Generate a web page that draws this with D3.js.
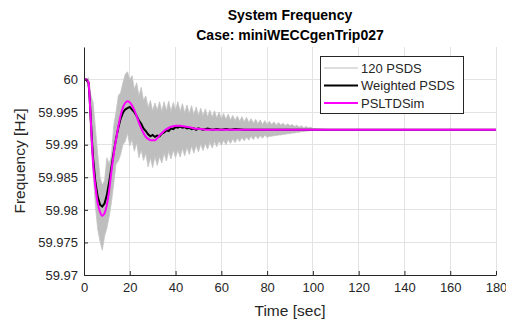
<!DOCTYPE html>
<html><head><meta charset="utf-8">
<script src="https://cdn.jsdelivr.net/npm/d3@7"></script>
<style>body{margin:0;background:#fff;} svg{display:block;font-family:"Liberation Sans",Arial,Helvetica,sans-serif;}</style>
</head><body>
<svg id="chart" width="506" height="325"></svg>
<script>
// ---- Data ----
const xTicks = [0, 20, 40, 60, 80, 100, 120, 140, 160, 180];
const yTicks = [59.97, 59.975, 59.98, 59.985, 59.99, 59.995, 60];
const yTickLabels = ["59.97", "59.975", "59.98", "59.985", "59.99", "59.995", "60"];

// PSLTDSim (magenta)
const simTime = [0,1,2,2.5,3,3.5,4,5,6,7,8,9,10,11,12,13,14,15,16,17,18,19,20,21,22,23,24,25,26,27,28,29,30,31,32,33,34,35,36,37,38,39,40,41,42,43,44,45,46,47,48,50,55,60,70,180];
const simFreq = [60,60,59.9995,59.997,59.9935,59.990,59.987,59.9835,59.981,59.9797,59.9791,59.9795,59.9808,59.983,59.986,59.9886,59.9908,59.9928,59.9945,59.9957,59.9964,59.99667,59.9965,59.996,59.9953,59.9944,59.9934,59.9925,59.9918,59.9912,59.9909,59.9907,59.99068,59.9907,59.991,59.9914,59.9918,59.9921,59.9924,59.9926,59.99275,59.99285,59.9929,59.99292,59.9929,59.99285,59.9928,59.99275,59.9927,59.9926,59.9925,59.99245,59.9923,59.99228,59.99228,59.9923];

// Weighted PSDS (black)
const wTime = [0,1,2,2.5,3,3.5,4,5,6,7,8,9,10,11,12,13,14,15,16,17,18,19,20,21,22,23,24,25,26,27,28,29,30,31,32,33,34,35,36,37,38,39,40,41,42,43,44,45,46,47,48,49,50,52,54,56,58,60,62,64,66,70,180];
const wFreq = [60,60,59.9995,59.997,59.9937,59.9905,59.9878,59.9842,59.982,59.9808,59.9805,59.981,59.9823,59.9843,59.9866,59.9889,59.9909,59.9926,59.994,59.9949,59.9954,59.9956,59.9958,59.9954,59.995,59.9944,59.9937,59.9932,59.9925,59.9921,59.9916,59.9913,59.9915,59.9912,59.9914,59.9913,59.9917,59.9919,59.9922,59.9921,59.9925,59.9924,59.9927,59.9926,59.9928,59.9926,59.9927,59.9925,59.9926,59.9924,59.9925,59.9923,59.9925,59.9923,59.9925,59.9923,59.9924,59.9923,59.9924,59.9923,59.9924,59.9923,59.9923];

// 120 PSDS (grey band: upper / lower envelope of the runs)
const bandTime = [0,1,2,3,4,5,6,7,8,9,10,11,12,13,14,15,16,17,18,19,20,21,22,23,24,25,26,27,28,29,30,31,32,33,34,35,36,37,38,39,40,41,42,43,44,45,46,47,48,49,50,51,52,53,54,55,56,57,58,59,60,61,62,63,64,65,66,67,68,69,70,71,72,73,74,75,76,77,78,79,80,81,82,83,84,85,86,87,88,89,90,91,92,93,94,95,96,97,98,99,100,102,104,106];
const bandUpper = [60,60,60.0003,59.9975,59.9965,59.9925,59.9885,59.985,59.9838,59.9845,59.988,59.987,59.9885,59.993,59.995,59.9975,59.998,59.9995,60.0008,
  60.0012,60.0,60.0006,59.9985,59.9995,59.9975,59.9988,59.9968,59.9975,59.9957,
  59.9968,59.9952,59.9964,59.9953,59.9966,59.9951,59.9966,59.9952,59.9967,59.9951,
  59.9965,59.9953,59.9966,59.9951,59.9963,59.9949,59.9961,59.9948,59.996,59.9946,
  59.9958,59.9945,59.9956,59.9944,59.9955,59.9943,59.9953,59.9942,59.9952,59.9941,
  59.995,59.994,59.9948,59.9939,59.9947,59.9938,59.9945,59.9937,59.9944,59.9936,
  59.9943,59.9935,59.9942,59.9934,59.994,59.9933,59.9939,59.9932,59.9938,59.9931,
  59.9937,59.9931,
  59.9936,59.9931,59.9935,59.993,59.9934,59.993,59.9933,59.9929,59.9932,59.9929,59.9931,59.9928,59.993,59.9927,59.9929,59.9926,59.9928,59.9926,59.9927,59.9925,
  59.99245,59.9924,59.99235];
const bandLower = [60,60,59.9985,59.9905,59.9855,59.9805,59.977,59.9752,59.9738,59.976,59.9772,59.979,59.9812,59.984,59.987,59.9875,59.9885,59.99,59.9905,
  59.9918,59.9898,59.9908,59.989,59.9903,59.988,59.9892,59.9876,59.9887,59.9866,
  59.988,59.9865,59.9882,59.9868,59.9882,59.9872,59.9887,59.9875,59.989,59.9878,
  59.9892,59.988,59.9892,59.9881,59.9894,59.9883,59.9896,59.9885,59.9898,59.9887,
  59.9899,59.9889,59.9901,59.9891,59.9902,59.9893,59.9904,59.9895,59.9905,59.9897,
  59.9906,59.9899,59.9907,59.99,59.9908,59.9902,59.9909,59.9903,59.991,59.9905,
  59.9911,59.9906,59.9912,59.9907,59.9913,59.9908,59.9914,59.9909,59.9914,59.991,
  59.9915,59.9911,
  59.9913,59.9913,59.9914,59.9914,59.9915,59.9915,59.9916,59.9916,59.9917,59.9917,59.9918,59.9918,59.9919,59.9919,59.992,59.992,59.9921,59.9921,59.9922,59.9922,
  59.99225,59.9923,59.99228];

const legendLabels = ["120 PSDS", "Weighted PSDS", "PSLTDSim"];

// ---- Drawing ----
const svg = d3.select("#chart");
const mLeft = 84, mRight = 496, mTop = 47, mBottom = 275;
const x = d3.scaleLinear().domain([0, 180]).range([mLeft, mRight]);
const y = d3.scaleLinear().domain([59.97, 60.005]).range([mBottom, mTop]);
const axisCol = "#262626";

// grid
const g = svg.append("g");
g.selectAll(".gx").data(xTicks).enter().append("line")
  .attr("x1", d => x(d)).attr("x2", d => x(d)).attr("y1", mTop).attr("y2", mBottom)
  .attr("stroke", "#e3e3e3").attr("stroke-width", 1).attr("shape-rendering", "crispEdges");
g.selectAll(".gy").data(yTicks).enter().append("line")
  .attr("x1", mLeft).attr("x2", mRight).attr("y1", d => y(d)).attr("y2", d => y(d))
  .attr("stroke", "#e3e3e3").attr("stroke-width", 1).attr("shape-rendering", "crispEdges");

// grey band
const area = d3.area().x((d, i) => x(bandTime[i])).y0((d, i) => y(bandLower[i])).y1((d, i) => y(bandUpper[i]));
svg.append("path").datum(bandTime).attr("d", area).attr("fill", "#bebebe").attr("stroke", "#c4c4c4").attr("stroke-width", 0.8);

// lines
const simLine = d3.line().x((d, i) => x(simTime[i])).y((d, i) => y(simFreq[i])).curve(d3.curveMonotoneX);
const wLine = d3.line().x((d, i) => x(wTime[i])).y((d, i) => y(wFreq[i])).curve(d3.curveLinear);
svg.append("path").datum(wTime).attr("d", wLine).attr("fill", "none").attr("stroke", "#000").attr("stroke-width", 2);
svg.append("path").datum(simTime).attr("d", simLine).attr("fill", "none").attr("stroke", "#ff00ff").attr("stroke-width", 2);

// axes
const xAxis = d3.axisBottom(x).tickValues(xTicks).tickSizeInner(-4).tickSizeOuter(0).tickPadding(8);
const yAxis = d3.axisLeft(y).tickValues(yTicks).tickFormat((d, i) => yTickLabels[i]).tickSizeInner(-4).tickSizeOuter(0).tickPadding(6);
const gx = svg.append("g").attr("transform", `translate(0,${mBottom})`).call(xAxis);
const gy = svg.append("g").attr("transform", `translate(${mLeft},0)`).call(yAxis);
[gx, gy].forEach(a => {
  a.select(".domain").attr("stroke", axisCol).attr("stroke-width", 1);
  a.selectAll(".tick line").attr("stroke", axisCol);
  a.selectAll(".tick text").attr("fill", axisCol).style("font-size", "13px").style("font-family", "Liberation Sans, Arial, sans-serif");
});

// axis labels
svg.append("text").attr("x", (mLeft + mRight) / 2).attr("y", 316).attr("text-anchor", "middle")
  .attr("fill", axisCol).style("font-size", "15.5px").text("Time [sec]");
svg.append("text").attr("transform", `translate(25,${(mTop + mBottom) / 2}) rotate(-90)`).attr("text-anchor", "middle")
  .attr("fill", axisCol).style("font-size", "15.5px").text("Frequency [Hz]");

// title
svg.append("text").attr("x", (mLeft + mRight) / 2).attr("y", 20).attr("text-anchor", "middle")
  .style("font-weight", "bold").style("font-size", "14px").attr("fill", "#000").text("System Frequency");
svg.append("text").attr("x", (mLeft + mRight) / 2).attr("y", 40).attr("text-anchor", "middle")
  .style("font-weight", "bold").style("font-size", "14px").attr("fill", "#000").text("Case: miniWECCgenTrip027");

// legend
const lg = svg.append("g");
lg.append("rect").attr("x", 320.5).attr("y", 56.5).attr("width", 143).attr("height", 57)
  .attr("fill", "#fff").attr("stroke", axisCol).attr("stroke-width", 1);
const legColors = ["#bdbdbd", "#000", "#ff00ff"];
const legWidths = [1, 2, 2];
legendLabels.forEach((lab, i) => {
  const cy = 68 + i * 17.5;
  lg.append("line").attr("x1", 324).attr("x2", 358).attr("y1", cy).attr("y2", cy)
    .attr("stroke", legColors[i]).attr("stroke-width", legWidths[i]);
  lg.append("text").attr("x", 361).attr("y", cy + 4.5).attr("fill", axisCol).style("font-size", "13px").text(lab);
});
</script>
</body></html>
